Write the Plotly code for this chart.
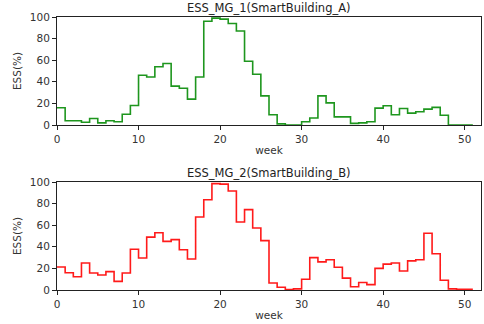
import plotly.graph_objects as go

weeks = list(range(52))
ess_mg1 = [16, 4, 4, 2.5, 6, 2, 4, 3, 10, 18,
           46, 44.5, 54, 57, 36, 34, 24, 44.5, 96, 99,
           98, 94, 87, 59, 47, 27, 9.5, 1, 0, 0,
           3, 6.5, 27, 20.5, 7.5, 7.5, 1.5, 2, 3, 15.6,
           17.8, 9.5, 15.3, 11, 12.3, 14.7, 16.3, 9, 0, 0,
           0, 0]
ess_mg2 = [21.3, 16, 12.3, 25, 15.7, 13.9, 17, 8, 15.7, 37.7,
           29.6, 49, 53, 45, 46.6, 37.3, 28.7, 67.6, 83.6, 98.5,
           98, 91.7, 63, 74.4, 57.4, 45.7, 6.5, 2.5, 0.3, 1,
           10, 30, 26, 28, 21, 11, 3, 7, 5, 20,
           24, 25, 17.6, 27, 28, 52.5, 33.6, 9, 1, 0.6,
           0.6, 0.6]
titles = ["ESS_MG_1(SmartBuilding_A)", "ESS_MG_2(SmartBuilding_B)"]
colors = ["#1e961e", "#ff1a1a"]
xticks = [0, 10, 20, 30, 40, 50]
yticks = [0, 20, 40, 60, 80, 100]

fig = go.Figure()
fig.add_trace(go.Scatter(x=weeks, y=ess_mg1, mode="lines", line=dict(shape="hv", color=colors[0], width=1.6),
                         xaxis="x", yaxis="y", showlegend=False))
fig.add_trace(go.Scatter(x=weeks, y=ess_mg2, mode="lines", line=dict(shape="hv", color=colors[1], width=1.6),
                         xaxis="x2", yaxis="y2", showlegend=False))

font = dict(family="DejaVu Sans", size=10.5, color="#333")
axcommon = dict(showline=True, mirror=True, linecolor="#222", linewidth=1, ticks="outside", ticklen=4,
                tickcolor="#222", showgrid=False, zeroline=False, tickfont=font)

fig.update_layout(
    width=484, height=324,
    margin=dict(l=57, r=3, t=17, b=34),
    plot_bgcolor="white", paper_bgcolor="white",
    xaxis=dict(domain=[0, 1], range=[0, 52], tickvals=xticks, anchor="y", **axcommon,
               title=dict(text="week", font=font, standoff=3)),
    yaxis=dict(domain=[0.6044, 1], range=[0, 100], tickvals=yticks, anchor="x", **axcommon,
               title=dict(text="ESS(%)", font=font, standoff=6)),
    xaxis2=dict(domain=[0, 1], range=[0, 52], tickvals=xticks, anchor="y2", **axcommon,
                title=dict(text="week", font=font, standoff=3)),
    yaxis2=dict(domain=[0, 0.3956], range=[0, 100], tickvals=yticks, anchor="x2", **axcommon,
                title=dict(text="ESS(%)", font=font, standoff=6)),
    annotations=[
        dict(text=titles[0], x=0.5, y=1, xref="paper", yref="paper", xanchor="center", yanchor="bottom",
             showarrow=False, yshift=0, font=dict(family="DejaVu Sans", size=11.5, color="#222")),
        dict(text=titles[1], x=0.5, y=0.3956, xref="paper", yref="paper", xanchor="center", yanchor="bottom",
             showarrow=False, yshift=0, font=dict(family="DejaVu Sans", size=11.5, color="#222")),
    ],
)

fig.write_html("out.html")
